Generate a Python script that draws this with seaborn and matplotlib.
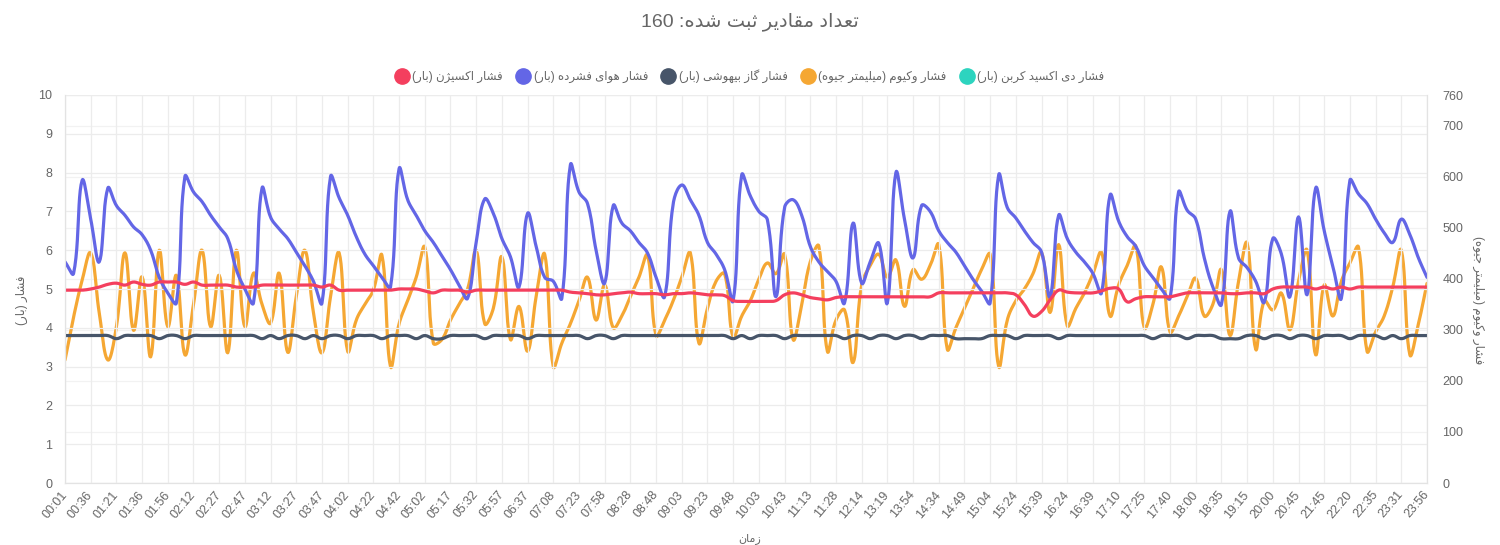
import re
import numpy as np
import pandas as pd
import seaborn as sns
import matplotlib.pyplot as plt
from matplotlib.lines import Line2D

# x tick labels (one label every 3rd record, 160 records in total)
time_labels = ["00:01", "00:36", "01:21", "01:36", "01:56", "02:12", "02:27", "02:47", "03:12",
               "03:27", "03:47", "04:02", "04:22", "04:42", "05:02", "05:17", "05:32", "05:57",
               "06:37", "07:08", "07:23", "07:58", "08:28", "08:48", "09:03", "09:23", "09:48",
               "10:03", "10:43", "11:13", "11:28", "12:14", "13:19", "13:54", "14:34", "14:49",
               "15:04", "15:24", "15:39", "16:24", "16:39", "17:10", "17:25", "17:40", "18:00",
               "18:35", "19:15", "20:00", "20:45", "21:45", "22:20", "22:35", "23:31", "23:56"]
n_records = 160

# oxygen pressure (bar)
oxygen = [4.97, 4.97, 4.97, 5.0, 5.05, 5.12, 5.15, 5.1, 5.18, 5.12,
          5.1, 5.18, 5.18, 5.18, 5.12, 5.18, 5.1, 5.1, 5.1, 5.1,
          5.05, 5.05, 5.05, 5.1, 5.1, 5.1, 5.1, 5.1, 5.1, 5.1,
          5.05, 5.1, 4.97, 4.97, 4.97, 4.97, 4.97, 4.97, 4.97, 5.0,
          5.0, 5.0, 4.95, 4.9, 4.97, 4.97, 4.97, 4.92, 4.97, 4.97,
          4.97, 4.97, 4.97, 4.97, 4.97, 4.97, 4.97, 4.97, 4.97, 4.92,
          4.9, 4.88, 4.85, 4.85, 4.88, 4.9, 4.92, 4.88, 4.88, 4.88,
          4.85, 4.88, 4.88, 4.9, 4.88, 4.85, 4.85, 4.83, 4.7, 4.68,
          4.68, 4.68, 4.68, 4.7, 4.85, 4.9, 4.85, 4.78, 4.75, 4.72,
          4.78, 4.8, 4.8, 4.8, 4.8, 4.8, 4.8, 4.8, 4.8, 4.8,
          4.8, 4.8, 4.9, 4.9, 4.9, 4.9, 4.9, 4.9, 4.9, 4.9,
          4.9, 4.85, 4.6, 4.3, 4.42, 4.72, 4.97, 4.92, 4.9, 4.9,
          4.9, 4.95, 5.02, 5.0, 4.67, 4.75, 4.8, 4.8, 4.8, 4.8,
          4.85, 4.9, 4.9, 4.9, 4.9, 4.9, 4.88, 4.88, 4.9, 4.9,
          4.88, 5.0, 5.05, 5.05, 5.05, 5.05, 5.0, 5.05, 5.0, 5.05,
          5.0, 5.05, 5.05, 5.05, 5.05, 5.05, 5.05, 5.05, 5.05, 5.05]

# compressed air pressure (bar)
air = [5.7, 5.4, 7.8, 6.8, 5.7, 7.6, 7.15, 6.9, 6.6, 6.4,
       6.0, 5.3, 4.9, 4.64, 7.9, 7.5, 7.25, 6.9, 6.6, 6.3,
       5.5, 5.0, 4.64, 7.6, 6.85, 6.55, 6.3, 5.95, 5.6, 5.2,
       4.64, 7.9, 7.35, 6.9, 6.35, 5.9, 5.6, 5.3, 5.05, 8.1,
       7.3, 6.9, 6.5, 6.2, 5.85, 5.5, 5.1, 4.76, 6.2, 7.32,
       6.95, 6.3, 5.83, 5.05, 6.95, 6.1, 5.3, 5.2, 4.76, 8.2,
       7.5, 7.2, 6.0, 5.15, 7.15, 6.7, 6.5, 6.2, 5.93, 5.3,
       4.8, 7.2, 7.68, 7.3, 6.9, 6.2, 5.9, 5.5, 4.7, 7.94,
       7.4, 7.0, 6.78, 4.8, 7.1, 7.3, 6.9, 6.1, 5.7, 5.45,
       5.2, 4.64, 6.7, 5.15, 5.7, 6.18, 4.64, 8.0, 6.8, 5.8,
       7.15, 7.0, 6.5, 6.2, 5.95, 5.6, 5.25, 4.95, 4.64, 7.94,
       7.1, 6.83, 6.5, 6.2, 5.95, 4.8, 6.9, 6.3, 5.95, 5.7,
       5.4, 4.9, 7.42, 6.75, 6.35, 6.1, 5.6, 5.3, 5.0, 4.76,
       7.5, 7.03, 6.8, 5.8, 5.05, 4.6, 7.0, 5.8, 5.55, 5.2,
       4.66, 6.3, 5.9, 4.8, 6.86, 4.85, 7.6, 6.5, 5.6, 4.76,
       7.8, 7.45, 7.2, 6.8, 6.45, 6.2, 6.8, 6.4, 5.8, 5.3]

# anaesthetic gas pressure (bar)
gas = [3.8, 3.8, 3.8, 3.8, 3.8, 3.8, 3.72, 3.8, 3.8, 3.8,
       3.8, 3.72, 3.8, 3.8, 3.72, 3.8, 3.8, 3.8, 3.8, 3.8,
       3.8, 3.8, 3.8, 3.72, 3.8, 3.72, 3.8, 3.8, 3.72, 3.8,
       3.72, 3.8, 3.8, 3.72, 3.8, 3.8, 3.8, 3.72, 3.8, 3.8,
       3.8, 3.72, 3.8, 3.72, 3.72, 3.8, 3.8, 3.8, 3.8, 3.72,
       3.8, 3.8, 3.8, 3.8, 3.72, 3.8, 3.8, 3.8, 3.8, 3.8,
       3.8, 3.72, 3.8, 3.8, 3.72, 3.8, 3.8, 3.8, 3.8, 3.8,
       3.8, 3.8, 3.8, 3.8, 3.8, 3.8, 3.8, 3.8, 3.72, 3.8,
       3.72, 3.8, 3.8, 3.8, 3.72, 3.8, 3.8, 3.8, 3.8, 3.8,
       3.8, 3.72, 3.8, 3.8, 3.72, 3.8, 3.8, 3.72, 3.8, 3.8,
       3.72, 3.8, 3.8, 3.8, 3.72, 3.72, 3.72, 3.72, 3.8, 3.8,
       3.8, 3.72, 3.8, 3.8, 3.8, 3.8, 3.72, 3.8, 3.8, 3.8,
       3.8, 3.8, 3.8, 3.8, 3.8, 3.8, 3.8, 3.72, 3.8, 3.8,
       3.8, 3.72, 3.8, 3.8, 3.8, 3.72, 3.72, 3.72, 3.8, 3.8,
       3.72, 3.8, 3.8, 3.72, 3.8, 3.8, 3.72, 3.8, 3.8, 3.8,
       3.72, 3.8, 3.8, 3.8, 3.72, 3.8, 3.72, 3.8, 3.8, 3.8]

# vacuum (mmHg, right axis)
vacuum = [241, 325, 397, 451, 333, 241, 306, 451, 299, 404,
          247, 456, 306, 407, 251, 350, 456, 306, 407, 255,
          456, 306, 411, 350, 313, 411, 256, 365, 456, 334,
          255, 365, 451, 258, 319, 350, 378, 446, 228, 312,
          357, 403, 462, 274, 281, 319, 350, 380, 456, 312,
          342, 443, 281, 346, 258, 365, 448, 228, 274, 312,
          357, 403, 319, 388, 304, 327, 365, 403, 446, 289,
          319, 357, 403, 451, 274, 342, 395, 410, 286, 327,
          357, 399, 431, 410, 448, 281, 350, 433, 464, 258,
          319, 339, 236, 388, 426, 448, 403, 437, 346, 418,
          399, 426, 467, 262, 304, 342, 380, 418, 448, 228,
          319, 357, 380, 410, 452, 334, 467, 308, 342, 372,
          410, 452, 327, 388, 426, 464, 304, 350, 423, 296,
          327, 365, 401, 327, 350, 418, 289, 395, 470, 262,
          357, 339, 372, 300, 395, 456, 251, 388, 327, 395,
          431, 462, 258, 296, 327, 384, 456, 251, 312, 391]

# carbon dioxide (bar): no records
co2 = []

C_RED = "#f43f5e"
C_BLUE = "#6366e6"
C_GRAY = "#475569"
C_ORANGE = "#f5a733"
C_TEAL = "#2dd4bf"
TXT = "#666666"

# presentation forms (isolated, final, initial, medial); 2-tuple letters join only to the right
FORMS = {
    'ا': ('\uFE8D', '\uFE8E'),
    'ب': ('\uFE8F', '\uFE90', '\uFE91', '\uFE92'),
    'ت': ('\uFE95', '\uFE96', '\uFE97', '\uFE98'),
    'ث': ('\uFE99', '\uFE9A', '\uFE9B', '\uFE9C'),
    'ج': ('\uFE9D', '\uFE9E', '\uFE9F', '\uFEA0'),
    'د': ('\uFEA9', '\uFEAA'),
    'ر': ('\uFEAD', '\uFEAE'),
    'ز': ('\uFEAF', '\uFEB0'),
    'ژ': ('\uFB8A', '\uFB8B'),
    'س': ('\uFEB1', '\uFEB2', '\uFEB3', '\uFEB4'),
    'ش': ('\uFEB5', '\uFEB6', '\uFEB7', '\uFEB8'),
    'ع': ('\uFEC9', '\uFECA', '\uFECB', '\uFECC'),
    'ف': ('\uFED1', '\uFED2', '\uFED3', '\uFED4'),
    'ق': ('\uFED5', '\uFED6', '\uFED7', '\uFED8'),
    'ک': ('\uFB8E', '\uFB8F', '\uFB90', '\uFB91'),
    'گ': ('\uFB92', '\uFB93', '\uFB94', '\uFB95'),
    'ل': ('\uFEDD', '\uFEDE', '\uFEDF', '\uFEE0'),
    'م': ('\uFEE1', '\uFEE2', '\uFEE3', '\uFEE4'),
    'ن': ('\uFEE5', '\uFEE6', '\uFEE7', '\uFEE8'),
    'ه': ('\uFEE9', '\uFEEA', '\uFEEB', '\uFEEC'),
    'و': ('\uFEED', '\uFEEE'),
    'ی': ('\uFBFC', '\uFBFD', '\uFBFE', '\uFBFF'),
}


def fa(text):
    # shape persian letters and put them in visual (right-to-left) order
    out = []
    for i, ch in enumerate(text):
        f = FORMS.get(ch)
        if f is None:
            out.append(ch)
            continue
        prev = FORMS.get(text[i - 1]) if i > 0 else None
        nxt = FORMS.get(text[i + 1]) if i + 1 < len(text) else None
        join_prev = prev is not None and len(prev) == 4
        join_next = len(f) == 4 and nxt is not None
        if join_prev and join_next:
            out.append(f[3])
        elif join_prev:
            out.append(f[1])
        elif join_next:
            out.append(f[2])
        else:
            out.append(f[0])
    vis = ''.join(reversed(out))
    vis = vis.translate({ord('('): ')', ord(')'): '('})
    return re.sub(r'\d+', lambda m: m.group(0)[::-1], vis)


def smooth(values, yscale, xscale=8.57, tension=0.4, steps=12):
    # cubic bezier through the points, like the original chart's curved lines
    p = np.column_stack([np.arange(len(values)) * xscale, np.asarray(values, float) * yscale])
    n = len(p)
    cl = p.copy()
    cr = p.copy()
    for i in range(n):
        p0, p1, p2 = p[max(i - 1, 0)], p[i], p[min(i + 1, n - 1)]
        d01 = np.hypot(*(p1 - p0))
        d12 = np.hypot(*(p2 - p1))
        s = d01 + d12
        if s == 0:
            continue
        cl[i] = p1 - tension * d01 / s * (p2 - p0)
        cr[i] = p1 + tension * d12 / s * (p2 - p0)
    t = np.linspace(0, 1, steps, endpoint=False)[:, None]
    pts = []
    for i in range(n - 1):
        a, b, c, d = p[i], cr[i], cl[i + 1], p[i + 1]
        pts.append((1 - t) ** 3 * a + 3 * (1 - t) ** 2 * t * b + 3 * (1 - t) * t ** 2 * c + t ** 3 * d)
    pts.append(p[-1:])
    pts = np.vstack(pts)
    return pd.DataFrame({"x": pts[:, 0] / xscale, "y": pts[:, 1] / yscale})


sns.set_style("white")
plt.rcParams['font.family'] = ['Liberation Sans', 'DejaVu Sans']

fig = plt.figure(figsize=(15, 5.45), dpi=100)
ax = fig.add_axes([65 / 1500, 1 - 483 / 545, 1362 / 1500, 388 / 545])
ax2 = ax.twinx()

# vacuum goes on the right axis, drawn underneath the others
vac_df = smooth(vacuum, 0.5105)
sns.lineplot(data=vac_df, x="x", y="y", ax=ax2, color=C_ORANGE, lw=2.3, sort=False, estimator=None)

ax.set_zorder(ax2.get_zorder() + 1)
ax.patch.set_visible(False)

for vals, col in [(gas, C_GRAY), (air, C_BLUE), (oxygen, C_RED)]:
    sns.lineplot(data=smooth(vals, 38.8), x="x", y="y", ax=ax, color=col, lw=2.3,
                 sort=False, estimator=None)

ax.set_xlim(0, n_records - 1)
ax.set_ylim(0, 10)
ax2.set_ylim(0, 760)
ax.set_yticks(range(0, 11))
ax2.set_yticks([0, 100, 200, 300, 400, 500, 600, 700, 760])
ax.set_xticks(range(0, n_records, 3))
ax.set_xticklabels(time_labels, rotation=50, ha='right', va='center', rotation_mode='anchor')

ax.grid(True, color='#ececec', lw=0.9)
ax2.grid(True, axis='y', color='#f2f2f2', lw=0.9)
ax.set_axisbelow(True)

for a in (ax, ax2):
    a.tick_params(length=0, labelsize=9, colors=TXT)
    a.spines['top'].set_visible(False)
    for side in ['left', 'bottom', 'right']:
        a.spines[side].set_color('#e3e3e3')
ax.tick_params(axis='y', pad=9)
ax.tick_params(axis='x', pad=7)
ax2.tick_params(axis='y', pad=11)

ax.set_xlabel("")
ax.set_ylabel("")
ax2.set_ylabel("")

fig.text(22 / 1500, 1 - 300 / 545, fa("فشار (بار)"), rotation=90, ha='center', va='center',
         fontsize=8.5, color=TXT)
fig.text(1478 / 1500, 1 - 300 / 545, fa("فشار وکیوم (میلیمتر جیوه)"), rotation=-90,
         ha='center', va='center', fontsize=8.5, color=TXT)
fig.text(0.5, 1 - 22 / 545, fa("تعداد مقادیر ثبت شده: 160"), ha='center', va='center',
         fontsize=14, color=TXT)
fig.text(0.5, 1 / 545, fa("زمان"), ha='center', va='bottom', fontsize=8, color=TXT)

series_labels = ["فشار اکسیژن (بار)", "فشار هوای فشرده (بار)", "فشار گاز بیهوشی (بار)",
                 "فشار وکیوم (میلیمتر جیوه)", "فشار دی اکسید کربن (بار)"]
series_colors = [C_RED, C_BLUE, C_GRAY, C_ORANGE, C_TEAL]
handles = [Line2D([], [], ls='none', marker='o', markersize=11, markerfacecolor=c, markeredgecolor=c)
           for c in series_colors]
fig.legend(handles, [fa(s) for s in series_labels], loc='center', bbox_to_anchor=(0.5, 1 - 76 / 545),
           ncol=5, frameon=False, fontsize=8.5, labelcolor=TXT, handlelength=1.0,
           handletextpad=0.4, columnspacing=1.2)

fig.savefig("out.png", dpi=100)
